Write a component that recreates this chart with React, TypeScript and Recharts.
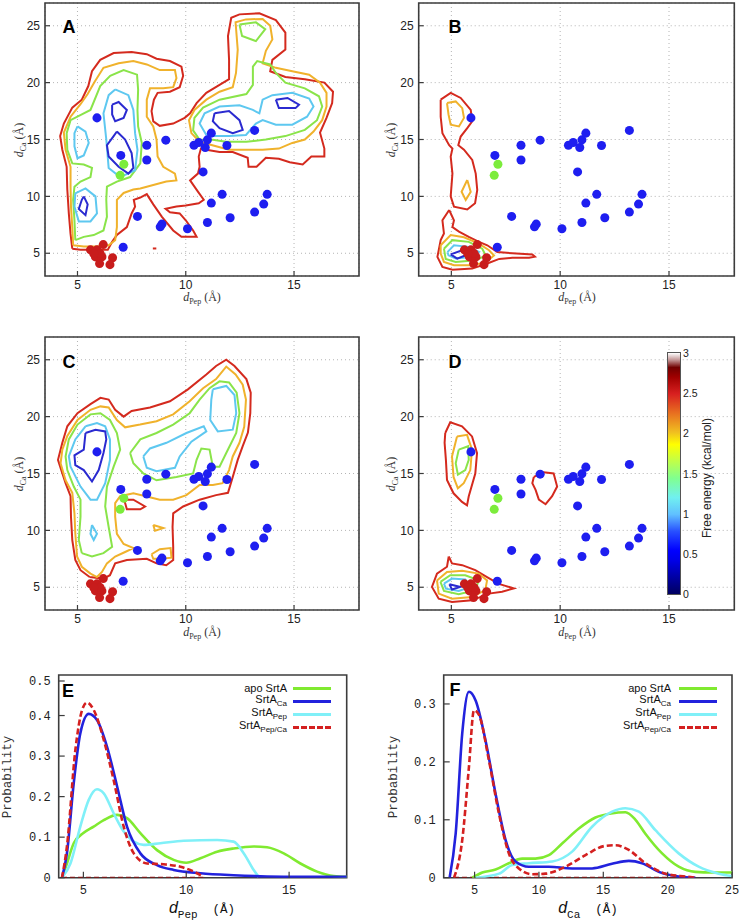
import React from 'react';
import { ComposedChart, Line, Scatter, XAxis, YAxis, CartesianGrid, ReferenceArea } from 'recharts';

type P = [number, number];

const SANS = '"Liberation Sans", Arial, sans-serif';
const SERIF = '"Liberation Serif", "Times New Roman", serif';
const MONO = '"Liberation Mono", "DejaVu Sans Mono", monospace';

const RED = '#d42a1e';
const ORANGE = '#f0b22c';
const GREEN = '#8ae44a';
const LBLUE = '#5ec8f0';
const BLUE = '#2a2ad0';

// markers shared by panels A-D
const BLUE_PTS: P[] = [[5.9, 16.9], [7.0, 13.6], [8.2, 14.5], [8.2, 13.2], [9.08, 14.94], [10.38, 14.5], [10.6, 14.74], [10.9, 14.3], [11.0, 14.97], [11.18, 15.56], [11.9, 14.47], [13.18, 15.8], [10.8, 12.15], [11.68, 10.18], [11.18, 9.41], [13.76, 10.18], [13.6, 9.32], [13.18, 8.62], [12.05, 8.12], [11.0, 7.7], [10.08, 7.15], [8.9, 7.56], [8.82, 7.32], [7.77, 8.24], [7.11, 5.53]];
const GREEN_PTS: P[] = [[7.14, 12.82], [6.97, 11.85]];
const RED_PTS: P[] = [[5.6, 5.3], [5.9, 5.3], [6.19, 5.76], [5.83, 4.68], [6.13, 4.68], [6.02, 4.09], [6.62, 4.6], [6.5, 4.0], [6.05, 4.97], [5.75, 4.97]];

// panel A contours
const A_RED: P[] = [[4.76, 5.4], [4.68, 6.7], [4.6, 8.5], [4.53, 10.6], [4.5, 12.6], [4.3, 14.1], [4.2, 15.3], [4.37, 16.4], [4.76, 17.8], [5.2, 18.5], [5.5, 19.7], [5.67, 21.0], [6.05, 22.0], [6.67, 22.6], [7.5, 22.7], [8.2, 22.5], [8.65, 22.1], [9.27, 21.9], [9.8, 21.4], [9.88, 20.6], [9.72, 19.6], [9.27, 19.2], [8.7, 19.1], [8.53, 18.5], [8.42, 17.5], [8.5, 16.6], [8.8, 16.2], [9.42, 16.4], [9.95, 16.9], [10.2, 17.3], [10.5, 18.2], [10.95, 19.1], [11.56, 19.8], [12.0, 20.3], [12.0, 22.0], [11.95, 24.1], [12.1, 25.7], [12.48, 26.0], [13.4, 26.1], [14.16, 25.5], [14.6, 24.4], [14.6, 22.9], [14.0, 22.0], [13.9, 21.0], [14.6, 20.5], [15.5, 20.3], [16.4, 20.0], [16.8, 19.2], [16.76, 18.2], [16.5, 16.9], [16.2, 15.6], [16.4, 14.2], [16.4, 13.5], [15.8, 13.5], [15.4, 12.8], [14.8, 13.0], [14.3, 13.3], [13.7, 13.4], [13.27, 12.6], [12.9, 12.6], [12.86, 13.4], [12.17, 13.9], [11.56, 13.9], [10.95, 14.1], [10.7, 14.2], [10.6, 13.5], [10.64, 12.6], [10.56, 12.0], [10.2, 11.4], [10.57, 10.4], [10.83, 9.7], [10.6, 9.4], [10.0, 9.2], [9.57, 9.1], [9.07, 8.9], [9.27, 8.6], [9.72, 8.5], [10.0, 7.9], [10.34, 7.0], [10.5, 6.44], [9.8, 6.44], [9.42, 7.0], [8.9, 8.2], [8.5, 9.3], [8.2, 10.2], [7.9, 9.9], [7.6, 9.7], [7.66, 9.1], [7.5, 8.5], [7.28, 7.3], [6.82, 6.6], [6.6, 6.0], [6.4, 5.3], [6.05, 5.3], [5.6, 5.3], [5.14, 5.3]];
const A_RED_DOT: P[] = [[8.48, 5.42], [8.64, 5.42]];
const A_ORANGE_L: P[] = [[4.8, 5.7], [4.76, 7.3], [4.7, 9.1], [4.68, 10.85], [4.68, 12.6], [4.45, 14.1], [4.37, 15.6], [4.68, 17.0], [5.14, 18.1], [5.47, 19.0], [5.8, 20.1], [6.2, 21.3], [6.9, 21.7], [7.58, 21.9], [8.2, 21.6], [8.8, 21.1], [9.5, 21.1], [9.57, 20.4], [9.42, 19.6], [8.96, 19.5], [8.35, 19.5], [8.2, 18.5], [8.2, 17.0], [8.5, 16.15], [8.65, 15.0], [8.7, 13.5], [8.96, 12.6], [9.5, 12.0], [9.57, 11.4], [9.1, 11.3], [8.5, 11.0], [7.9, 10.7], [7.58, 10.6], [7.13, 10.3], [6.82, 9.7], [6.82, 8.5], [6.82, 7.3], [6.74, 6.15], [6.44, 5.7], [5.9, 5.6], [5.29, 5.6]];
const A_ORANGE_R: P[] = [[12.0, 14.1], [11.4, 14.4], [10.64, 14.8], [10.26, 15.56], [10.15, 16.7], [10.4, 17.6], [10.95, 18.5], [11.56, 19.2], [12.17, 19.6], [12.32, 20.85], [12.4, 22.9], [12.3, 25.3], [12.78, 25.56], [13.55, 25.6], [13.9, 25.0], [14.0, 23.8], [13.7, 22.8], [13.55, 21.7], [14.16, 21.3], [14.92, 21.0], [15.7, 20.7], [16.2, 20.0], [16.5, 19.1], [16.5, 17.9], [16.3, 16.7], [15.9, 15.7], [15.5, 15.0], [14.92, 14.7], [14.3, 14.2], [13.55, 14.1], [12.8, 14.1]];
const A_GREEN_L: P[] = [[4.9, 6.15], [4.86, 7.9], [4.8, 9.7], [4.86, 10.85], [5.14, 11.3], [5.6, 11.7], [5.67, 12.5], [5.29, 12.8], [4.76, 12.9], [4.53, 14.1], [4.5, 15.56], [4.68, 16.7], [5.2, 17.2], [5.6, 17.6], [6.05, 19.7], [6.51, 20.6], [7.13, 21.1], [7.75, 20.7], [7.8, 19.4], [7.77, 17.6], [7.8, 16.15], [7.97, 14.7], [7.9, 12.9], [7.43, 11.7], [6.82, 11.3], [6.36, 10.85], [6.33, 9.7], [6.36, 8.2], [6.2, 7.0], [5.75, 6.6], [5.29, 6.44]];
const A_GREEN_R: P[] = [[10.64, 14.97], [10.34, 15.8], [10.4, 16.9], [10.8, 17.8], [11.56, 18.5], [12.8, 19.0], [13.1, 19.8], [13.1, 21.4], [13.3, 21.9], [13.9, 21.6], [14.16, 20.85], [14.6, 20.0], [15.5, 19.5], [16.15, 18.8], [16.3, 17.9], [16.06, 16.7], [15.5, 15.85], [14.6, 15.3], [13.7, 15.0], [12.8, 14.8], [11.86, 14.8], [11.25, 14.97]];
const A_GREEN_T: P[] = [[12.48, 25.1], [13.24, 25.3], [13.67, 24.7], [13.24, 23.65], [12.6, 24.1]];
const A_LB_1: P[] = [[5.0, 16.15], [5.37, 15.7], [5.52, 14.7], [5.29, 13.6], [5.0, 13.35], [4.86, 14.4], [4.86, 15.56]];
const A_LB_2: P[] = [[4.9, 10.26], [5.37, 10.7], [5.83, 10.0], [5.9, 8.5], [5.6, 7.8], [5.06, 7.8], [4.86, 9.1]];
const A_LB_3: P[] = [[6.74, 19.4], [7.35, 18.9], [7.58, 17.6], [7.66, 15.56], [7.77, 14.1], [7.66, 12.3], [6.97, 11.7], [6.44, 12.5], [6.33, 15.0], [6.2, 17.3], [6.44, 18.9]];
const A_LB_4: P[] = [[10.95, 15.4], [10.64, 16.4], [10.87, 17.3], [11.56, 17.9], [12.48, 18.0], [13.1, 17.6], [13.4, 17.3], [13.55, 18.5], [14.0, 18.9], [14.92, 19.1], [15.7, 18.6], [15.9, 17.9], [15.6, 17.0], [14.92, 16.3], [14.16, 16.3], [13.55, 16.7], [13.24, 16.4], [12.78, 15.4], [12.0, 15.3], [11.25, 15.3]];
const A_BL_1: P[] = [[6.6, 18.06], [6.9, 18.3], [7.28, 17.6], [7.13, 16.9], [6.74, 16.6], [6.6, 17.2]];
const A_BL_2: P[] = [[6.82, 15.7], [7.2, 15.0], [7.5, 13.8], [7.58, 12.5], [7.35, 12.0], [6.9, 12.6], [6.44, 13.5], [6.36, 14.5], [6.67, 15.3]];
const A_BL_3: P[] = [[5.29, 10.0], [5.47, 9.3], [5.37, 8.35], [5.06, 8.9], [5.2, 9.7]];
const A_BL_4: P[] = [[11.33, 17.3], [12.0, 17.5], [12.48, 16.7], [12.63, 15.85], [12.17, 15.56], [11.56, 16.0], [11.25, 16.6]];
const A_BL_5: P[] = [[14.16, 18.5], [14.7, 18.65], [15.23, 18.06], [15.07, 17.76], [14.3, 17.76]];

// panel B contours
const B_RED_1: P[] = [[4.51, 18.5], [4.97, 19.1], [5.43, 18.65], [5.89, 17.6], [5.96, 16.6], [5.73, 16.0], [5.43, 15.26], [5.32, 14.5], [5.58, 14.1], [5.96, 13.2], [6.12, 12.0], [6.19, 10.56], [6.09, 9.4], [5.73, 8.85], [5.12, 9.1], [4.97, 10.0], [5.05, 12.0], [4.97, 13.5], [5.05, 14.2], [4.9, 14.5], [4.59, 15.56], [4.51, 17.0]];
const B_RED_2: P[] = [[4.9, 8.8], [5.12, 7.9], [5.05, 7.3], [5.35, 6.9], [5.8, 6.44], [6.27, 6.0], [6.65, 5.7], [7.11, 5.1], [7.8, 5.0], [8.72, 4.9], [8.84, 4.7], [8.57, 4.6], [7.8, 4.6], [7.2, 4.5], [6.65, 4.1], [5.96, 3.65], [5.05, 3.56], [4.59, 3.8], [4.36, 4.68], [4.51, 6.15], [4.66, 6.74], [4.59, 7.9]];
const B_OR_1: P[] = [[4.8, 18.2], [5.2, 18.35], [5.5, 17.76], [5.58, 16.9], [5.35, 16.15], [4.97, 16.3], [4.87, 17.2]];
const B_OR_2: P[] = [[5.73, 11.44], [5.89, 10.4], [5.66, 9.68], [5.47, 10.4]];
const B_OR_3: P[] = [[4.51, 5.7], [4.97, 6.6], [5.58, 6.4], [6.27, 5.85], [6.73, 5.26], [6.96, 4.8], [6.58, 4.2], [5.96, 3.94], [5.12, 3.94], [4.66, 4.24], [4.51, 4.97]];
const B_GR: P[] = [[4.66, 5.4], [5.05, 6.15], [5.8, 6.0], [6.42, 5.4], [6.58, 4.8], [6.12, 4.38], [5.2, 4.24], [4.74, 4.5]];
const B_LB: P[] = [[4.82, 5.1], [5.12, 5.7], [5.8, 5.56], [6.27, 5.12], [5.96, 4.68], [5.2, 4.53], [4.87, 4.82]];
const B_BL: P[] = [[4.97, 4.9], [5.5, 5.26], [5.66, 4.82], [5.27, 4.53]];

// panel C contours
const C_RED_1: P[] = [[5.56, 5.9], [5.14, 6.5], [4.9, 7.4], [4.76, 9.15], [4.7, 11.2], [4.68, 13.0], [4.45, 14.15], [4.2, 15.6], [4.1, 16.2], [4.3, 17.7], [4.53, 19.15], [5.0, 20.3], [5.6, 21.1], [6.06, 21.65], [6.44, 21.5], [6.74, 20.6], [7.13, 20.0], [7.5, 20.5], [8.35, 20.8], [9.27, 21.35], [10.1, 22.4], [10.95, 23.7], [11.4, 24.45], [11.87, 25.0], [12.25, 24.45], [12.8, 23.3], [13.0, 22.1], [12.98, 20.3], [12.87, 18.6], [12.63, 17.4], [12.4, 16.2], [12.17, 14.7], [11.95, 13.3], [11.4, 13.1], [10.64, 12.7], [9.88, 12.1], [9.42, 11.5], [9.39, 10.3], [9.42, 8.56], [9.42, 7.4], [9.1, 6.94], [8.65, 7.1], [8.2, 7.5], [7.28, 7.4], [6.74, 7.1], [6.5, 6.06], [6.2, 5.76]];
const C_RED_2: P[] = [[7.13, 12.7], [7.58, 12.7], [8.12, 12.1], [7.9, 11.85], [7.28, 11.85], [7.2, 12.4]];
const C_OR_1: P[] = [[5.6, 6.2], [5.2, 6.8], [4.98, 7.7], [4.9, 9.7], [4.86, 11.5], [4.76, 13.3], [4.45, 14.4], [4.22, 15.9], [4.3, 17.1], [4.53, 18.3], [5.0, 19.7], [5.6, 20.6], [6.06, 20.9], [6.44, 20.8], [6.82, 19.7], [7.2, 19.06], [7.89, 19.3], [8.65, 19.6], [9.42, 20.2], [10.18, 21.35], [10.8, 22.5], [11.4, 23.3], [11.87, 24.4], [12.3, 23.7], [12.63, 22.8], [12.78, 21.5], [12.7, 19.1], [12.48, 17.7], [12.17, 16.5], [12.0, 15.3], [11.7, 14.15], [11.25, 14.0], [10.64, 14.0], [10.03, 13.1], [9.42, 12.7], [8.8, 12.7], [8.2, 12.97], [7.58, 13.26], [6.97, 13.0], [6.74, 12.4], [6.74, 11.2], [6.82, 9.7], [7.13, 8.8], [7.58, 8.44], [7.2, 8.1], [6.74, 7.7], [6.36, 7.1], [6.13, 6.35], [5.9, 5.9]];
const C_OR_2: P[] = [[8.5, 10.47], [8.96, 10.2], [8.58, 9.97]];
const C_OR_3: P[] = [[8.42, 7.9], [8.8, 8.35], [9.3, 8.44], [9.34, 7.6], [8.88, 7.5], [8.5, 7.5]];
const C_GR_1: P[] = [[5.2, 8.0], [5.06, 9.15], [5.14, 11.2], [5.14, 12.7], [4.83, 13.85], [4.53, 15.3], [4.45, 16.5], [4.6, 18.0], [5.0, 19.3], [5.6, 20.2], [6.06, 20.3], [6.5, 19.7], [6.82, 18.56], [6.97, 17.1], [6.67, 15.6], [6.36, 13.85], [6.28, 12.1], [6.44, 10.3], [6.6, 8.56], [6.2, 8.0], [5.67, 7.7]];
const C_GR_2: P[] = [[7.43, 16.8], [7.9, 18.0], [8.65, 18.56], [9.42, 19.3], [10.18, 20.3], [10.64, 21.5], [11.1, 22.5], [11.56, 23.1], [12.0, 23.0], [12.35, 22.1], [12.48, 20.3], [12.33, 18.56], [11.87, 16.8], [11.56, 15.6], [11.25, 15.6], [11.1, 17.1], [10.72, 17.2], [10.5, 16.2], [10.34, 15.0], [9.57, 14.7], [8.65, 14.4], [8.04, 15.0], [7.58, 15.9]];
const C_LB_1: P[] = [[5.37, 19.15], [5.9, 19.44], [6.28, 19.15], [6.5, 18.0], [6.5, 16.2], [6.28, 14.15], [5.9, 12.7], [5.6, 12.7], [5.14, 13.85], [4.68, 15.6], [4.6, 16.5], [4.9, 18.0]];
const C_LB_2: P[] = [[5.67, 10.47], [5.9, 9.7], [5.75, 9.15], [5.6, 9.7]];
const C_LB_3: P[] = [[8.04, 16.5], [8.35, 17.2], [9.11, 17.7], [10.03, 18.56], [10.83, 19.15], [10.95, 18.7], [10.26, 17.8], [9.72, 16.5], [9.5, 15.5], [8.65, 15.2], [8.2, 15.5]];
const C_LB_4: P[] = [[11.25, 22.4], [11.87, 22.7], [12.25, 21.9], [12.33, 20.3], [12.17, 18.85], [11.48, 18.7], [11.13, 19.7], [11.18, 21.5]];
const C_BL: P[] = [[5.37, 18.56], [5.83, 18.85], [6.28, 18.7], [6.33, 18.0], [6.2, 16.8], [5.98, 15.3], [5.67, 14.3], [5.29, 15.3], [4.9, 15.74], [4.86, 16.6], [5.29, 17.1]];

// panel D contours
const D_RED_1: P[] = [[4.72, 18.56], [4.95, 19.5], [5.49, 19.15], [5.95, 18.26], [6.18, 16.8], [6.1, 15.0], [5.8, 13.0], [5.72, 12.2], [5.49, 12.5], [5.1, 13.26], [4.8, 14.44], [4.75, 16.2], [4.69, 17.7]];
const D_OR_1: P[] = [[5.26, 18.26], [5.72, 18.4], [5.95, 17.1], [5.87, 15.3], [5.57, 14.15], [5.3, 13.7], [5.1, 14.7], [5.03, 16.5]];
const D_GR_1: P[] = [[5.34, 17.1], [5.77, 17.4], [5.8, 16.2], [5.64, 15.3], [5.3, 14.9], [5.2, 15.9]];
const D_RED_2: P[] = [[8.79, 14.7], [9.25, 15.1], [9.7, 15.0], [9.86, 13.85], [9.63, 13.0], [9.33, 12.3], [9.02, 12.7], [8.87, 13.56], [8.72, 14.15]];
const D_RED_3: P[] = [[4.88, 7.7], [5.03, 7.1], [5.5, 6.94], [6.1, 6.5], [6.64, 5.9], [7.18, 5.3], [7.87, 4.9], [7.33, 4.6], [6.72, 4.44], [5.95, 3.85], [5.03, 3.7], [4.42, 4.0], [4.11, 5.03], [4.34, 6.2], [4.8, 6.8]];
const D_OR_2: P[] = [[4.34, 5.6], [4.8, 6.35], [5.5, 6.44], [6.26, 6.2], [6.64, 5.6], [6.56, 4.74], [5.95, 4.15], [5.03, 4.0], [4.42, 4.44]];
const D_GR_2: P[] = [[4.5, 5.47], [4.95, 6.06], [5.64, 6.06], [6.26, 5.6], [6.1, 4.74], [5.34, 4.38], [4.66, 4.68]];
const D_LB: P[] = [[4.66, 5.32], [5.03, 5.76], [5.64, 5.68], [5.87, 5.03], [5.34, 4.68], [4.75, 4.88]];
const D_BL: P[] = [[4.91, 5.26], [5.41, 5.03], [5.03, 4.8]];

// panel E: probability vs d_Pep
const E_APO: P[] = [[3.96, 0], [4.2, 0.035], [4.53, 0.085], [5.0, 0.11], [5.5, 0.126], [5.99, 0.142], [6.64, 0.155], [7.12, 0.147], [7.77, 0.11], [8.58, 0.068], [9.39, 0.044], [10.0, 0.037], [10.69, 0.048], [11.5, 0.064], [12.3, 0.072], [13.28, 0.077], [13.93, 0.075], [14.74, 0.06], [15.55, 0.035], [16.36, 0.015], [17.17, 0.004], [17.82, 0.002]];
const E_CA: P[] = [[3.96, 0], [4.2, 0.06], [4.53, 0.233], [4.85, 0.356], [5.26, 0.404], [5.66, 0.389], [6.15, 0.323], [6.64, 0.225], [7.12, 0.126], [7.77, 0.06], [8.58, 0.031], [9.39, 0.019], [10.69, 0.011], [12.3, 0.006], [13.93, 0.003], [15.55, 0.002], [17.82, 0.002]];
const E_PEP: P[] = [[3.96, 0], [4.37, 0.035], [4.85, 0.126], [5.26, 0.192], [5.66, 0.218], [5.99, 0.208], [6.47, 0.159], [6.96, 0.114], [7.45, 0.089], [7.93, 0.081], [8.74, 0.085], [9.88, 0.091], [11.5, 0.093], [12.3, 0.089], [12.8, 0.06], [13.28, 0.019], [13.52, 0.002]];
const E_PEPCA: P[] = [[3.96, 0], [4.2, 0.077], [4.61, 0.315], [4.94, 0.414], [5.18, 0.432], [5.5, 0.414], [5.99, 0.34], [6.47, 0.241], [6.96, 0.126], [7.45, 0.06], [8.1, 0.035], [8.9, 0.033], [9.72, 0.027], [10.37, 0.015], [10.85, 0.002]];
const E_BASE: P[] = [[3.96, 0], [10.85, 0]];

// panel F: probability vs d_Ca
const F_APO: P[] = [[4.82, 0], [5.6, 0.009], [6.63, 0.014], [7.66, 0.025], [8.7, 0.033], [9.73, 0.033], [10.77, 0.039], [11.8, 0.059], [13.1, 0.085], [14.39, 0.104], [15.6, 0.111], [16.72, 0.113], [17.5, 0.1], [18.27, 0.076], [19.57, 0.042], [20.86, 0.019], [22.15, 0.01], [23.45, 0.009], [25, 0.009]];
const F_CA: P[] = [[3.06, 0], [3.53, 0.076], [4.04, 0.249], [4.56, 0.321], [5.08, 0.306], [5.85, 0.237], [6.63, 0.145], [7.41, 0.065], [8.18, 0.028], [9.22, 0.019], [10.77, 0.019], [12.58, 0.016], [14.13, 0.016], [15.68, 0.024], [16.98, 0.029], [18.01, 0.025], [19.31, 0.01], [20.86, 0.002], [22.15, 0]];
const F_PEP: P[] = [[5.08, 0], [6.9, 0.007], [7.92, 0.022], [9.22, 0.025], [11.03, 0.028], [12.58, 0.045], [14.13, 0.088], [15.68, 0.114], [16.72, 0.12], [17.76, 0.114], [19.05, 0.082], [20.86, 0.042], [22.41, 0.019], [23.96, 0.007], [25, 0.003]];
const F_PEPCA: P[] = [[3.4, 0], [4.04, 0.065], [4.56, 0.191], [4.95, 0.289], [5.34, 0.281], [6.11, 0.203], [6.89, 0.111], [7.66, 0.042], [8.44, 0.016], [9.48, 0.006], [10.51, 0.007], [12.06, 0.019], [13.62, 0.039], [15.16, 0.055], [15.94, 0.056], [16.98, 0.048], [18.27, 0.025], [19.83, 0.007], [21.38, 0.002], [22.15, 0]];
const F_BASE: P[] = [[3.4, 0], [22.15, 0]];

const MAP_X_TICKS = [5, 10, 15];
const MAP_Y_TICKS = [5, 10, 15, 20, 25];
const CB_TICKS = ['3', '2.5', '2', '1.5', '1', '0.5', '0'];

const LEGEND_NAMES: [string, string][] = [['apo SrtA', ''], ['SrtA', 'Ca'], ['SrtA', 'Pep'], ['SrtA', 'Pep/Ca']];
const LINE_COLORS = ['#80ea30', '#2222dd', '#80f0f8', '#d42020'];

const toObj = (p: P[]) => p.map(([x, y]) => ({ x, y }));
const loop = (p: P[]) => toObj([...p, p[0]]);

type Contour = { c: string; p: P[]; open?: boolean };

const PANEL_A: Contour[] = [
  { c: RED, p: A_RED }, { c: RED, p: A_RED_DOT, open: true }, { c: ORANGE, p: A_ORANGE_L }, { c: ORANGE, p: A_ORANGE_R },
  { c: GREEN, p: A_GREEN_L }, { c: GREEN, p: A_GREEN_R }, { c: GREEN, p: A_GREEN_T },
  { c: LBLUE, p: A_LB_1 }, { c: LBLUE, p: A_LB_2 }, { c: LBLUE, p: A_LB_3 }, { c: LBLUE, p: A_LB_4 },
  { c: BLUE, p: A_BL_1 }, { c: BLUE, p: A_BL_2 }, { c: BLUE, p: A_BL_3 }, { c: BLUE, p: A_BL_4 }, { c: BLUE, p: A_BL_5 },
];
const PANEL_B: Contour[] = [
  { c: RED, p: B_RED_1 }, { c: RED, p: B_RED_2 }, { c: ORANGE, p: B_OR_1 }, { c: ORANGE, p: B_OR_2 },
  { c: ORANGE, p: B_OR_3 }, { c: GREEN, p: B_GR }, { c: LBLUE, p: B_LB }, { c: BLUE, p: B_BL },
];
const PANEL_C: Contour[] = [
  { c: RED, p: C_RED_1 }, { c: RED, p: C_RED_2 }, { c: ORANGE, p: C_OR_1 }, { c: ORANGE, p: C_OR_2 }, { c: ORANGE, p: C_OR_3 },
  { c: GREEN, p: C_GR_1 }, { c: GREEN, p: C_GR_2 }, { c: LBLUE, p: C_LB_1 }, { c: LBLUE, p: C_LB_2 },
  { c: LBLUE, p: C_LB_3 }, { c: LBLUE, p: C_LB_4 }, { c: BLUE, p: C_BL },
];
const PANEL_D: Contour[] = [
  { c: RED, p: D_RED_1 }, { c: ORANGE, p: D_OR_1 }, { c: GREEN, p: D_GR_1 }, { c: RED, p: D_RED_2 },
  { c: RED, p: D_RED_3 }, { c: ORANGE, p: D_OR_2 }, { c: GREEN, p: D_GR_2 }, { c: LBLUE, p: D_LB }, { c: BLUE, p: D_BL },
];

const axisColor = '#3c3c3c';

// tick renderers: gnuplot style inward ticks on all four sides
type Side = 'b' | 't' | 'l' | 'r';
function makeTick(side: Side, margin: number, len: number, font?: { family: string; size: number }) {
  return (props: any) => {
    const { x, y, payload } = props;
    let line: [number, number, number, number];
    if (side === 'b') line = [x, y - margin, x, y - margin - len];
    else if (side === 't') line = [x, y + margin, x, y + margin + len];
    else if (side === 'l') line = [x + margin, y, x + margin + len, y];
    else line = [x - margin, y, x - margin - len, y];
    return (
      <g>
        <line x1={line[0]} y1={line[1]} x2={line[2]} y2={line[3]} stroke={axisColor} strokeWidth={1.2} />
        {font && (
          <text x={x} y={y} dy={side === 'b' ? '0.8em' : '0.35em'} textAnchor={side === 'b' ? 'middle' : 'end'}
            fill="#222" fontSize={font.size} fontFamily={font.family}>{payload.value}</text>
        )}
      </g>
    );
  };
}

const MAP_FONT = { family: SANS, size: 12 };
const DIST_FONT = { family: MONO, size: 12 };

function MapPanel({ left, top, width, ml, mr, contours }: { left: number; top: number; width: number; ml: number; mr: number; contours: Contour[] }) {
  return (
    <div style={{ position: 'absolute', left, top }}>
      <ComposedChart width={width} height={300} margin={{ top: 3, right: mr, bottom: 4, left: ml }}>
        <CartesianGrid strokeDasharray="1 3" stroke="#b4b4b4" />
        <XAxis type="number" dataKey="x" domain={[3.5, 18]} ticks={MAP_X_TICKS} allowDataOverflow height={20}
          tickSize={0} tickMargin={3} axisLine={false} tickLine={false} tick={makeTick('b', 3, 5, MAP_FONT)} />
        <XAxis xAxisId="t" orientation="top" type="number" dataKey="x" domain={[3.5, 18]} ticks={MAP_X_TICKS}
          allowDataOverflow height={0} tickSize={0} tickMargin={0} axisLine={false} tickLine={false} tick={makeTick('t', 0, 5)} />
        <YAxis type="number" dataKey="y" domain={[3, 27]} ticks={MAP_Y_TICKS} allowDataOverflow width={40}
          tickSize={0} tickMargin={5} axisLine={false} tickLine={false} tick={makeTick('l', 5, 5, MAP_FONT)} />
        <YAxis yAxisId="r" orientation="right" type="number" dataKey="y" domain={[3, 27]} ticks={MAP_Y_TICKS}
          allowDataOverflow width={0} tickSize={0} tickMargin={0} axisLine={false} tickLine={false} tick={makeTick('r', 0, 5)} />
        {contours.map((ct, i) => (
          <Line key={i} data={ct.open ? toObj(ct.p) : loop(ct.p)} dataKey="y" type="linear" stroke={ct.c} strokeWidth={2}
            dot={false} activeDot={false} isAnimationActive={false} />
        ))}
        <Scatter data={toObj(BLUE_PTS)} fill="#1e1ef0" isAnimationActive={false} />
        <Scatter data={toObj(GREEN_PTS)} fill="#7cec3c" isAnimationActive={false} />
        <Scatter data={toObj(RED_PTS)} fill="#c81c1c" isAnimationActive={false} />
        <ReferenceArea x1={3.5} x2={18} y1={3} y2={27} fill="none" fillOpacity={0} stroke={axisColor} strokeWidth={1.6} ifOverflow="visible" />
      </ComposedChart>
    </div>
  );
}

type Series = { p: P[]; c: string; dash?: string; w?: number };

function DistPanel({ left, width, ml, mr, xDomain, xTicks, yDomain, yTicks, series }: {
  left: number; width: number; ml: number; mr: number; xDomain: [number, number]; xTicks: number[];
  yDomain: [number, number]; yTicks: number[]; series: Series[];
}) {
  return (
    <div style={{ position: 'absolute', left, top: 672 }}>
      <ComposedChart width={width} height={230} margin={{ top: 3, right: mr, bottom: 4.3, left: ml }}>
        <XAxis type="number" dataKey="x" domain={xDomain} ticks={xTicks} allowDataOverflow height={20}
          tickSize={0} tickMargin={7} axisLine={false} tickLine={false} tick={makeTick('b', 7, 6, DIST_FONT)} />
        <XAxis xAxisId="t" orientation="top" type="number" dataKey="x" domain={xDomain} ticks={xTicks}
          allowDataOverflow height={0} tickSize={0} tickMargin={0} axisLine={false} tickLine={false} tick={makeTick('t', 0, 6)} />
        <YAxis type="number" dataKey="y" domain={yDomain} ticks={yTicks} allowDataOverflow width={50}
          tickSize={0} tickMargin={8} axisLine={false} tickLine={false} tick={makeTick('l', 8, 6, DIST_FONT)} />
        <YAxis yAxisId="r" orientation="right" type="number" dataKey="y" domain={yDomain} ticks={yTicks}
          allowDataOverflow width={0} tickSize={0} tickMargin={0} axisLine={false} tickLine={false} tick={makeTick('r', 0, 6)} />
        {series.map((s, i) => (
          <Line key={i} data={toObj(s.p)} dataKey="y" type="monotone" stroke={s.c} strokeWidth={s.w ?? 2.6}
            strokeDasharray={s.dash} dot={false} activeDot={false} isAnimationActive={false} />
        ))}
        <ReferenceArea x1={xDomain[0]} x2={xDomain[1]} y1={yDomain[0]} y2={yDomain[1]} fill="none" fillOpacity={0} stroke={axisColor} strokeWidth={1.6} ifOverflow="visible" />
      </ComposedChart>
    </div>
  );
}

function Letter({ x, y, t }: { x: number; y: number; t: string }) {
  return (
    <div style={{ position: 'absolute', left: x, top: y, transform: 'translate(-50%,-50%)', fontFamily: SANS, fontWeight: 'bold', fontSize: 18, color: '#000' }}>{t}</div>
  );
}

function SerifLabel({ x, y, sub, rotate }: { x: number; y: number; sub: string; rotate?: boolean }) {
  return (
    <div style={{ position: 'absolute', left: x, top: y, transform: `translate(-50%,-50%)${rotate ? ' rotate(-90deg)' : ''}`, fontFamily: SERIF, fontSize: 12, color: '#333', whiteSpace: 'nowrap' }}>
      <i>d</i><sub style={{ fontSize: 8 }}>{sub}</sub> (Å)
    </div>
  );
}

function MonoXLabel({ x, y, sub }: { x: number; y: number; sub: string }) {
  return (
    <div style={{ position: 'absolute', left: x, top: y, transform: 'translate(-50%,-50%)', whiteSpace: 'nowrap', color: '#111' }}>
      <span style={{ fontFamily: SANS, fontStyle: 'italic', fontSize: 16 }}>d</span>
      <sub style={{ fontFamily: MONO, fontSize: 11 }}>{sub}</sub>
      <span style={{ fontFamily: MONO, fontSize: 12.5 }}>&nbsp;&nbsp;(Å)</span>
    </div>
  );
}

function ProbLabel({ x, y }: { x: number; y: number }) {
  return (
    <div style={{ position: 'absolute', left: x, top: y, transform: 'translate(-50%,-50%) rotate(-90deg)', fontFamily: MONO, fontSize: 12.5, color: '#333', whiteSpace: 'nowrap' }}>Probability</div>
  );
}

function LegendBox({ right, lineLeft }: { right: number; lineLeft: number }) {
  return (
    <>
      {LEGEND_NAMES.map(([name, sub], i) => (
        <React.Fragment key={i}>
          <div style={{ position: 'absolute', right: 745 - right, top: 688 + i * 13, transform: 'translateY(-50%)', fontFamily: SANS, fontSize: 11, color: '#111', whiteSpace: 'nowrap', lineHeight: '12px' }}>
            {name}{sub && <sub style={{ fontSize: 8, verticalAlign: '-3px' }}>{sub}</sub>}
          </div>
          <div style={{ position: 'absolute', left: lineLeft, top: 688 + i * 13 - 1.5, width: 38, height: 0, borderTop: `3px ${i === 3 ? 'dashed' : 'solid'} ${LINE_COLORS[i]}` }} />
        </React.Fragment>
      ))}
    </>
  );
}

function ColorBar() {
  return (
    <>
      <div style={{ position: 'absolute', left: 667, top: 352, width: 12, height: 241, border: '1px solid #555',
        background: 'linear-gradient(to top, #000060 0%, #0000e8 14%, #0000ff 18%, #2850ff 26%, #60c0ff 33%, #70f0f0 40%, #80ff90 48%, #c8ff40 56%, #ffff00 62%, #f0c020 67%, #e87020 75%, #d82020 83%, #a00000 90%, #700000 94%, #c09090 97%, #ffffff 100%)' }} />
      {CB_TICKS.map((t, i) => (
        <div key={t} style={{ position: 'absolute', left: 683, top: 353 + i * 40.2, transform: 'translateY(-50%)', fontFamily: SANS, fontSize: 10.5, color: '#222' }}>{t}</div>
      ))}
      <div style={{ position: 'absolute', left: 707, top: 478, transform: 'translate(-50%,-50%) rotate(-90deg)', fontFamily: SANS, fontSize: 12, color: '#222', whiteSpace: 'nowrap' }}>Free energy (kcal/mol)</div>
    </>
  );
}

export default function App() {
  return (
    <div style={{ position: 'absolute', left: 0, top: 0, width: 745, height: 922, background: '#fff', overflow: 'hidden' }}>
      <MapPanel left={0} top={0} width={372} ml={5} mr={13} contours={PANEL_A} />
      <MapPanel left={372} top={0} width={373} ml={6.7} mr={10.7} contours={PANEL_B} />
      <MapPanel left={0} top={334} width={372} ml={5} mr={13} contours={PANEL_C} />
      <MapPanel left={372} top={334} width={373} ml={6.7} mr={10.7} contours={PANEL_D} />
      <DistPanel left={0} width={372} ml={8.7} mr={25.3} xDomain={[3.8, 17.8]} xTicks={[5, 10, 15]}
        yDomain={[0, 0.5]} yTicks={[0, 0.1, 0.2, 0.3, 0.4, 0.5]}
        series={[
          { p: E_BASE, c: '#8a1010', dash: '5 3', w: 2 },
          { p: E_APO, c: LINE_COLORS[0] }, { p: E_PEP, c: LINE_COLORS[2] }, { p: E_CA, c: LINE_COLORS[1] },
          { p: E_PEPCA, c: LINE_COLORS[3], dash: '6 3' },
        ]} />
      <DistPanel left={372} width={373} ml={21.7} mr={13} xDomain={[2.6, 25]} xTicks={[5, 10, 15, 20, 25]}
        yDomain={[0, 0.35]} yTicks={[0, 0.1, 0.2, 0.3]}
        series={[
          { p: F_BASE, c: '#8a1010', dash: '5 3', w: 2 },
          { p: F_APO, c: LINE_COLORS[0] }, { p: F_PEP, c: LINE_COLORS[2] }, { p: F_CA, c: LINE_COLORS[1] },
          { p: F_PEPCA, c: LINE_COLORS[3], dash: '6 3' },
        ]} />

      <Letter x={69} y={27} t="A" />
      <Letter x={455} y={27} t="B" />
      <Letter x={69} y={362} t="C" />
      <Letter x={455} y={362} t="D" />
      <Letter x={68} y={691} t="E" />
      <Letter x={455} y={690} t="F" />

      <SerifLabel x={202} y={298} sub="Pep" />
      <SerifLabel x={577} y={298} sub="Pep" />
      <SerifLabel x={202} y={633} sub="Pep" />
      <SerifLabel x={577} y={633} sub="Pep" />
      <SerifLabel x={20} y={140} sub="Ca" rotate />
      <SerifLabel x={392} y={140} sub="Ca" rotate />
      <SerifLabel x={20} y={474} sub="Ca" rotate />
      <SerifLabel x={392} y={474} sub="Ca" rotate />

      <MonoXLabel x={202} y={910} sub="Pep" />
      <MonoXLabel x={588} y={910} sub="Ca" />
      <ProbLabel x={8} y={777} />
      <ProbLabel x={394} y={777} />

      <LegendBox right={287} lineLeft={293} />
      <LegendBox right={671} lineLeft={679} />
      <ColorBar />
    </div>
  );
}
